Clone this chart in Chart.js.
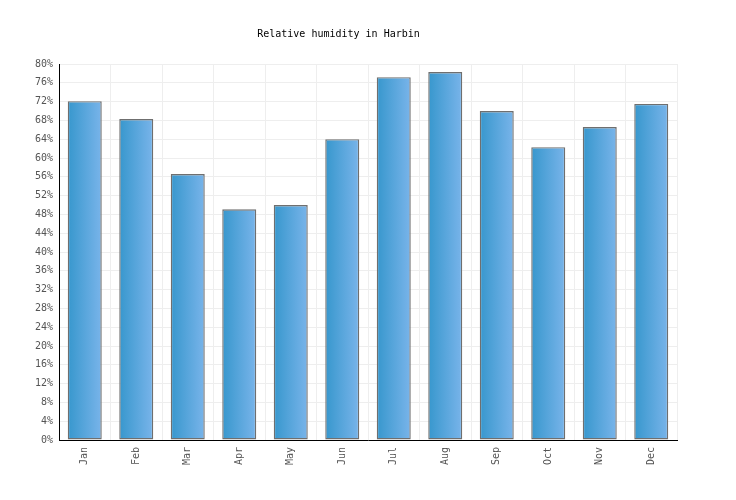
<!DOCTYPE html>
<html>
<head>
<meta charset="utf-8">
<script src="https://cdn.jsdelivr.net/npm/chart.js@4"></script>
<style>
  body { margin: 0; background: #fff; }
  #wrap { width: 736px; height: 500px; }
</style>
</head>
<body>
<div id="wrap"><canvas id="humidity" width="736" height="500"></canvas></div>
<script>
  // monthly relative humidity, Harbin
  var months = ["Jan", "Feb", "Mar", "Apr", "May", "Jun", "Jul", "Aug", "Sep", "Oct", "Nov", "Dec"];
  var humidity = [72.1, 68.3, 56.6, 49.1, 50.0, 64.0, 77.2, 78.3, 70.0, 62.3, 66.6, 71.5];
  var yTicks = [0, 4, 8, 12, 16, 20, 24, 28, 32, 36, 40, 44, 48, 52, 56, 60, 64, 68, 72, 76, 80];

  var mono = "'DejaVu Sans Mono', 'Liberation Mono', monospace";

  function barFill(ctx) {
    var chart = ctx.chart;
    var xs = chart.scales.x;
    if (!xs || !chart.chartArea || ctx.dataIndex === undefined) return '#4fa3dc';
    var cx = xs.getPixelForValue(ctx.dataIndex);
    var half = 17;
    var g = chart.ctx.createLinearGradient(cx - half, 0, cx + half, 0);
    g.addColorStop(0, '#3797cd');
    g.addColorStop(1, '#79b4ea');
    return g;
  }

  var humidityChart = new Chart(document.getElementById("humidity"), {
    type: 'bar',
    data: {
      labels: months,
      datasets: [{
        label: "Relative humidity",
        data: humidity,
        backgroundColor: barFill,
        borderColor: '#6f6f6f',
        borderWidth: 1.4,
        borderSkipped: false,
        inflateAmount: 0,
        barThickness: 34,
        categoryPercentage: 1.0
      }]
    },
    options: {
      responsive: false,
      animation: false,
      layout: { padding: { left: 0, right: 59, top: 0, bottom: 0 } },
      plugins: {
        legend: { display: false },
        tooltip: { enabled: false },
        title: {
          display: true,
          text: 'Relative humidity in Harbin',
          color: '#000',
          font: { family: mono, size: 10, weight: 'normal' },
          padding: { top: 28, bottom: 24 }
        }
      },
      scales: {
        x: {
          grid: { color: '#eeeeee', drawTicks: false, offset: true },
          border: { color: '#000', width: 1 },
          ticks: {
            color: '#555',
            font: { family: mono, size: 10 },
            minRotation: 90,
            maxRotation: 90,
            padding: 7
          },
          afterFit: function(scale) { scale.height = 60; }
        },
        y: {
          min: 0,
          max: 80,
          grid: { color: '#eeeeee', drawTicks: false },
          border: { color: '#000', width: 1, z: 1 },
          afterBuildTicks: function(scale) {
            scale.ticks = yTicks.map(function(v) { return { value: v }; });
          },
          ticks: {
            color: '#555',
            font: { family: mono, size: 10 },
            padding: 6,
            callback: function(v) { return v + '%'; }
          },
          afterFit: function(scale) { scale.width = 59; }
        }
      }
    }
  });
</script>
</body>
</html>
